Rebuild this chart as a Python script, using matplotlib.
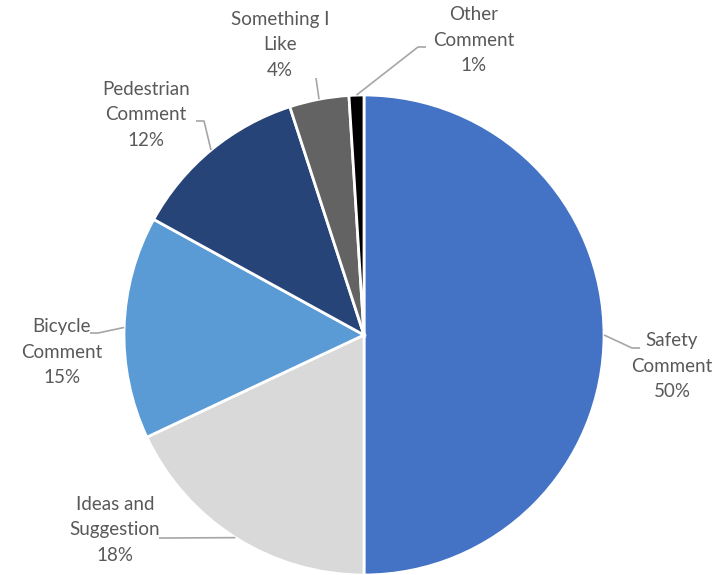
import numpy as np
import matplotlib.pyplot as plt

# ---- data ----
labels = ["Safety\nComment", "Ideas and\nSuggestion", "Bicycle\nComment",
          "Pedestrian\nComment", "Something I\nLike", "Other\nComment"]
shares = [50, 18, 15, 12, 4, 1]
colors = ["#4472C4", "#D9D9D9", "#5B9BD5", "#264478", "#636363", "#000000"]

# label layout (pixels, origin top-left): text centre, leader elbow, tail length
text_pos = [(672, 366), (115, 530), (62, 352), (146, 115), (280, 45), (474, 40)]
elbows = [(632, 348), (167, 538), (98, 333), (204, 121), (316, 78), (418, 47)]
tails = [8, 8, 8, 8, 0, 8]

W, H = 727, 575
fig = plt.figure(figsize=(W / 100, H / 100), dpi=100)
ax = fig.add_axes([0, 0, 1, 1])

cx, cy, r = 364, H - 335, 240
wedges, _ = ax.pie(shares, colors=colors, startangle=90, counterclock=False,
                   center=(cx, cy), radius=r,
                   wedgeprops=dict(edgecolor="white", linewidth=2))

for w, lab, s, tp, el, tl in zip(wedges, labels, shares, text_pos, elbows, tails):
    mid = np.deg2rad((w.theta1 + w.theta2) / 2)
    edge = (cx + r * np.cos(mid), cy + r * np.sin(mid))
    tx, ty = tp[0], H - tp[1]
    ex, ey = el[0], H - el[1]
    ax.text(tx, ty, f"{lab}\n{s}%", ha="center", va="center",
            fontsize=13.5, family="Lato", color="#595959", linespacing=1.58)
    # leader line: edge -> elbow -> short horizontal toward the text
    hx = ex + (tl if tx > ex else -tl)
    ax.plot([edge[0], ex, hx], [edge[1], ey, ey],
            color="#A6A6A6", lw=1.2, solid_capstyle="butt")

ax.set_xlim(0, W)
ax.set_ylim(0, H)
ax.set_aspect("equal")
ax.axis("off")

fig.savefig("out.png", dpi=100, facecolor="white")
